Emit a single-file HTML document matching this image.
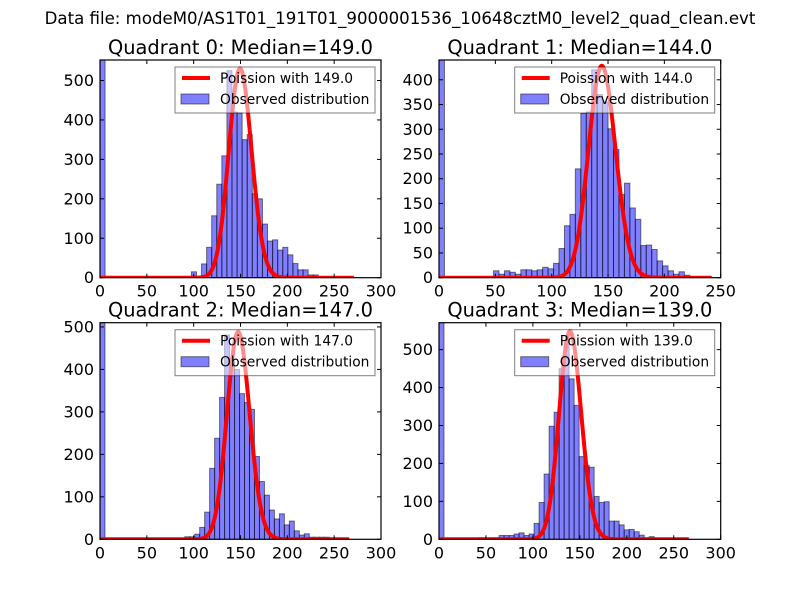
<!DOCTYPE html>
<html><head><meta charset="utf-8"><style>
body{margin:0;background:#fff}
svg{display:block;font-family:"DejaVu Sans","Liberation Sans",sans-serif}
</style></head><body>
<svg id="fig" width="800" height="600">
<rect width="800" height="600" fill="#fff"/>
<text x="400" y="24" text-anchor="middle" font-size="16.6">Data file: modeM0/AS1T01_191T01_9000001536_10648cztM0_level2_quad_clean.evt</text>
</svg>
<script>
const titles=["Quadrant 0: Median=149.0","Quadrant 1: Median=144.0","Quadrant 2: Median=147.0","Quadrant 3: Median=139.0"];
const medians=[149,144,147,139];
const binWidths=[5.42,4.84,5.32,5.33];
const xMaxes=[300,250,300,300];
const xTicks=[[0,50,100,150,200,250,300],[0,50,100,150,200,250],[0,50,100,150,200,250,300],[0,50,100,150,200,250,300]];
const yMaxes=[552,440,510,571];
const yTicks=[[0,100,200,300,400,500],[0,50,100,150,200,250,300,350,400],[0,100,200,300,400,500],[0,100,200,300,400,500]];
const curvePeaks=[530,428,488,548];
const curveEnds=[271,242,266,266];
const counts0=[2000,0,0,0,0,0,0,0,0,0,0,0,0,0,0,1,3,0,15,0,35,77,157,237,309,525,420,418,350,363,213,200,136,93,96,70,77,58,36,20,20,7,7,1,1,1,1,1,0,1];
const counts1=[2000,0,0,0,0,0,0,0,0,0,14,7,14,11,7,16,16,14,16,21,18,29,59,105,128,220,332,335,420,370,355,301,259,168,191,141,118,65,66,57,34,24,14,7,12,5,1,1,1,1];
const counts2=[2000,0,0,0,0,0,0,0,0,0,0,0,0,0,0,3,0,6,6,12,28,64,167,238,334,481,420,400,343,322,306,195,136,104,69,48,60,34,43,20,10,13,5,5,5,5,1,1,0,1];
const counts3=[2000,0,0,0,0,0,0,0,4,0,4,4,10,10,10,14,17,10,14,42,97,172,298,335,450,518,423,353,218,195,190,113,97,99,48,48,38,25,26,20,11,4,7,2,1,1,1,1,0,1];
const allCounts=[counts0,counts1,counts2,counts3];
const boxes=[[100,60,381,277.7],[439,60,720.7,277.7],[100,322.7,381,539.3],[439,322.7,720.7,539.3]];
const NS="http://www.w3.org/2000/svg";
const fig=document.getElementById('fig');
function mk(tag,attrs,parent){const e=document.createElementNS(NS,tag);for(const k in attrs)e.setAttribute(k,attrs[k]);(parent||fig).appendChild(e);return e;}
function lgamma(n){if(n<1)return 0;return n*Math.log(n)-n+0.5*Math.log(2*Math.PI/n)+1/(12*n);}
function pois(x,l){return Math.exp(x*Math.log(l)-l-lgamma(x));}
for(let p=0;p<4;p++){
  const [x0,y0,x1,y1]=boxes[p];
  const sx=v=>x0+v/xMaxes[p]*(x1-x0);
  const sy=v=>y1-v/yMaxes[p]*(y1-y0);
  const g=mk('g',{});
  
  
  const cid='clip'+p;
  const cp=mk('clipPath',{id:cid},g);mk('rect',{x:x0,y:y0,width:x1-x0,height:y1-y0},cp);
  const bars=mk('g',{'clip-path':'url(#'+cid+')'},g);
  allCounts[p].forEach((c,k)=>{
    if(c<=0)return;
    const r=mk('rect',{x:sx(k*binWidths[p]),y:sy(c),width:sx(binWidths[p])-x0,height:y1-sy(c),fill:'#0000ff','fill-opacity':0.5,stroke:'#000','stroke-opacity':0.5,'stroke-width':1},bars);
    
    
  });
  const lam=medians[p];const pk=pois(lam,lam);
  let d='';
  for(let x=0;x<=curveEnds[p];x+=0.5){const v=(x<1?0:pois(x,lam)/pk*curvePeaks[p]);d+=(x===0?'M':'L')+sx(x).toFixed(2)+','+sy(v).toFixed(2);}
  const cur=mk('path',{d:d,fill:'none',stroke:'#ff0000','stroke-width':4,'stroke-linejoin':'round'},bars);
  
  
  mk('rect',{x:x0,y:y0,width:x1-x0,height:y1-y0,fill:'none',stroke:'#000','stroke-width':1.2},g);
  xTicks[p].forEach(t=>{const X=sx(t);
    mk('line',{x1:X,y1:y1,x2:X,y2:y1-4,stroke:'#000'},g);mk('line',{x1:X,y1:y0,x2:X,y2:y0+4,stroke:'#000'},g);
    const tx=mk('text',{x:X,y:y1+19,'text-anchor':'middle','font-size':16},g);tx.textContent=t;
    
    });
  yTicks[p].forEach(t=>{const Y=sy(t);
    mk('line',{x1:x0,y1:Y,x2:x0+4,y2:Y,stroke:'#000'},g);mk('line',{x1:x1,y1:Y,x2:x1-4,y2:Y,stroke:'#000'},g);
    const tx=mk('text',{x:x0-6,y:Y+5.5,'text-anchor':'end','font-size':16},g);tx.textContent=t;
    
    });
  const ti=mk('text',{x:(x0+x1)/2,y:y0-6,'text-anchor':'middle','font-size':19.4},g);ti.textContent=titles[p];
  
  
  const lg=mk('g',{},g);
  
  
  const lx=x1-206,ly=y0+7;
  mk('rect',{x:lx,y:ly,width:200,height:46,fill:'#fff','fill-opacity':0.55,stroke:'#000','stroke-opacity':0.5},lg);
  mk('line',{x1:lx+7,y1:ly+11,x2:lx+35,y2:ly+11,stroke:'#ff0000','stroke-width':4},lg);
  const t1=mk('text',{x:lx+45,y:ly+16,'font-size':13.8},lg);t1.textContent='Poission with '+medians[p].toFixed(1);
  
  
  mk('rect',{x:lx+6,y:ly+27,width:28,height:10,fill:'#0000ff','fill-opacity':0.5,stroke:'#000','stroke-opacity':0.5},lg);
  const t2=mk('text',{x:lx+45,y:ly+37,'font-size':13.8},lg);t2.textContent='Observed distribution';
  
  
}
</script>
</body></html>
